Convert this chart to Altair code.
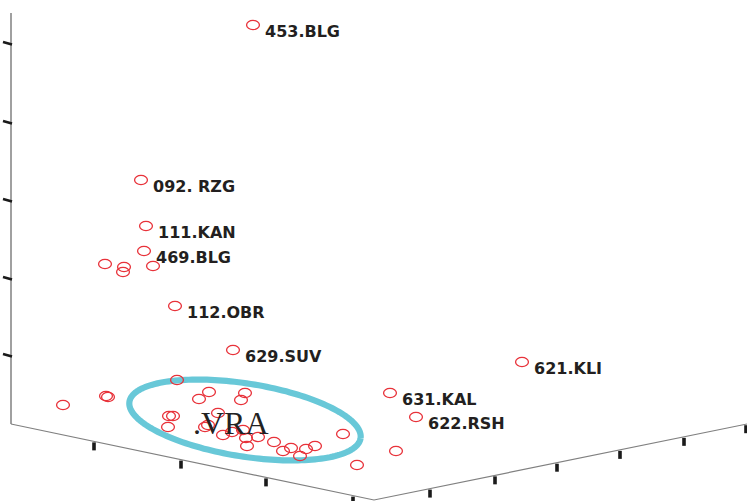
import numpy as np
import pandas as pd
import altair as alt

W, H = 747, 501

# Labelled stations: code and projected position on the screen plane
labels = ["453.BLG", "092. RZG", "111.KAN", "469.BLG", "112.OBR",
          "629.SUV", "631.KAL", "622.RSH", "621.KLI"]
label_x = [253, 141, 146, 144, 175, 233, 390, 416, 522]
label_y = [25, 180, 226, 251, 306, 350, 393, 417, 362]

# Unlabelled stations (projected positions)
other_x = [105, 124, 123, 153, 63, 106, 108,
           177, 209, 199, 245, 241, 169, 173, 168, 218, 205, 208,
           223, 232, 243, 246, 247, 258, 274, 283, 291, 300, 306, 315,
           343, 357, 396]
other_y = [264, 267, 272, 266, 405, 396, 397,
           380, 392, 399, 393, 400, 416, 416, 427, 413, 427, 425,
           435, 432, 430, 438, 446, 437, 442, 451, 448, 456, 449, 446,
           434, 465, 451]

# Box corners of the 3-D frame after projection
frame_x = [11, 11, 374, 747]
frame_y = [13, 424, 500, 424]

# Tick positions along the three axes
z_ticks = [43, 122, 200, 278, 355]
x_ticks = [94, 181, 266, 353]
y_ticks = [430, 495, 557, 620, 684, 746]

# Cluster outline (centre, semi-axes, tilt in degrees)
ell_cx, ell_cy, ell_a, ell_b, ell_tilt = 245, 420, 117.0, 36.5, 9.0
cluster_name = ".VRA"

xs = alt.Scale(domain=[0, W], nice=False, zero=False)
ys = alt.Scale(domain=[0, H], nice=False, zero=False, reverse=True)

def X(f):
    return alt.X(f, type="quantitative", scale=xs, axis=None)

def Y(f):
    return alt.Y(f, type="quantitative", scale=ys, axis=None)

# vertical edge of the frame, a thin gray bar
vert = pd.DataFrame({"x": [frame_x[0] - 1], "x2": [frame_x[0] + 1],
                     "y": [frame_y[0]], "y2": [frame_y[1]]})
vert_layer = alt.Chart(vert).mark_rect(color="#a0a0a0").encode(
    x=X("x"), x2="x2", y=Y("y"), y2="y2")

# floor edges of the frame
floor = pd.DataFrame({"i": [0, 1, 2], "x": frame_x[1:], "y": frame_y[1:]})
edge_layer = alt.Chart(floor).mark_line(color="#808080", strokeWidth=1.2).encode(
    x=X("x"), y=Y("y"), order="i:Q")

# vertical axis ticks (short slanted strokes)
zt = pd.DataFrame({"x": 3, "y": [v - 1 for v in z_ticks],
                   "x2": 12, "y2": [v + 1.5 for v in z_ticks]})
zt_layer = alt.Chart(zt).mark_rule(color="#1a1a1a", strokeWidth=2.6).encode(
    x=X("x"), y=Y("y"), x2="x2", y2="y2")

# bottom axis ticks, hanging below the frame edges
bx = np.array(x_ticks + y_ticks, dtype=float)
by = np.interp(bx, frame_x[1:], frame_y[1:])
bt = pd.DataFrame({"x": bx, "y": by + 1, "y2": by + 9})
bt_layer = alt.Chart(bt).mark_rule(color="#1a1a1a", strokeWidth=3.6).encode(
    x=X("x"), y=Y("y"), y2="y2")

# cluster ellipse
t = np.linspace(0, 2 * np.pi, 181)
th = np.deg2rad(ell_tilt)
ell = pd.DataFrame({
    "i": np.arange(len(t)),
    "x": ell_cx + ell_a * np.cos(t) * np.cos(th) - ell_b * np.sin(t) * np.sin(th),
    "y": ell_cy + ell_a * np.cos(t) * np.sin(th) + ell_b * np.sin(t) * np.cos(th),
})
ell_layer = alt.Chart(ell).mark_line(color="#68c8d8", strokeWidth=6.2,
                                     strokeJoin="round").encode(
    x=X("x"), y=Y("y"), order="i:Q")

# open markers, slightly wider than tall
marker = ("M-1,0 C-1,-0.4 -0.55,-0.72 0,-0.72 C0.55,-0.72 1,-0.4 1,0 "
          "C1,0.4 0.55,0.72 0,0.72 C-0.55,0.72 -1,0.4 -1,0 Z")
pts = pd.DataFrame({
    "x": label_x + other_x,
    "y": label_y + other_y,
})
pt_layer = alt.Chart(pts).mark_point(shape=marker, size=165, filled=False,
                                     color="#e8323a", strokeWidth=1.3,
                                     opacity=1).encode(x=X("x"), y=Y("y"))

lab = pd.DataFrame({"x": label_x, "y": label_y, "name": labels})
lab_layer = alt.Chart(lab).mark_text(
    align="left", baseline="middle", dx=12, dy=7,
    font="DejaVu Sans", fontWeight="bold", fontSize=16, color="#231f20"
).encode(x=X("x"), y=Y("y"), text="name:N")

cl = pd.DataFrame({"x": [193], "y": [434], "name": [cluster_name]})
cl_layer = alt.Chart(cl).mark_text(
    align="left", baseline="alphabetic",
    font="Liberation Serif", fontSize=32, color="#222222"
).encode(x=X("x"), y=Y("y"), text="name:N")

chart = alt.layer(
    vert_layer, edge_layer, zt_layer, bt_layer, ell_layer, pt_layer,
    cl_layer, lab_layer
).properties(
    width=W, height=H, padding=0, autosize=alt.AutoSizeParams(type="none"),
    background="white"
).configure_view(stroke=None)

chart.save("out.html", embed_options={"renderer": "svg", "actions": False})
